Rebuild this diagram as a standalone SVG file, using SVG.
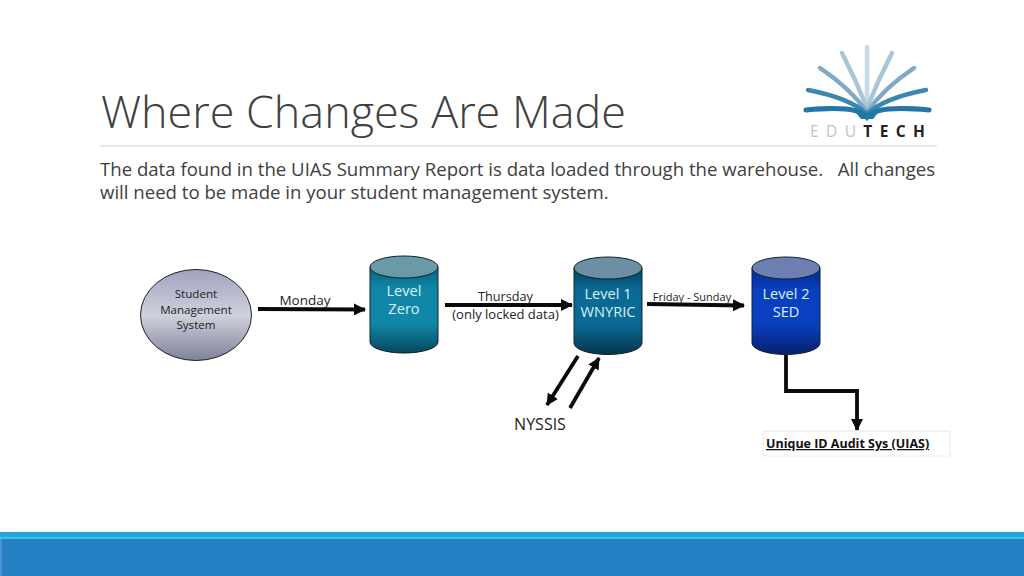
<svg xmlns="http://www.w3.org/2000/svg" width="1024" height="576" viewBox="0 0 1024 576">
<style>
text{font-family:"Open Sans","Noto Sans",sans-serif}
.t{fill:#404040}
.w{fill:#d8f0fa;font-size:14.600px;text-anchor:middle}
.k{fill:#222;font-size:11.600px;text-anchor:middle}
.c{stroke:#0a0a0a;stroke-width:3.800;fill:none}
.top{stroke:#0c2430;stroke-width:1}
.body{stroke:#0c2430;stroke-width:1}
.ray{fill:none;stroke-linecap:round}
</style>
<defs>
<marker id="a" markerUnits="userSpaceOnUse" markerWidth="13" markerHeight="12" refX="11" refY="6" orient="auto"><path d="M0 0L12 6L0 12Z" fill="#0a0a0a"/></marker>
<linearGradient id="g0" x1="0" y1="0" x2="0" y2="1"><stop offset="0" stop-color="#0a5f78"/><stop offset=".25" stop-color="#1187a8"/><stop offset=".65" stop-color="#1187a8"/><stop offset="1" stop-color="#06485e"/></linearGradient>
<linearGradient id="g1" x1="0" y1="0" x2="0" y2="1"><stop offset="0" stop-color="#063f5c"/><stop offset=".25" stop-color="#0b6a93"/><stop offset=".65" stop-color="#0b6a93"/><stop offset="1" stop-color="#053450"/></linearGradient>
<linearGradient id="g2" x1="0" y1="0" x2="0" y2="1"><stop offset="0" stop-color="#062a8c"/><stop offset=".25" stop-color="#0a3fc0"/><stop offset=".65" stop-color="#0a3fc0"/><stop offset="1" stop-color="#05206e"/></linearGradient>
<linearGradient id="e" x1="0" y1="0" x2="0" y2="1"><stop offset="0" stop-color="#9fa3bd"/><stop offset=".5" stop-color="#cfd1de"/><stop offset="1" stop-color="#7f8299"/></linearGradient>
</defs>
<rect width="1024" height="576" fill="#fff"/>
<g id="title">
<text x="101" y="128" class="t" style="font-size:44.900px;font-weight:300">Where Changes Are Made</text>
<line x1="100" y1="146" x2="937" y2="146" stroke="#d0d0d0"/>
</g>
<g id="body">
<text x="100" y="176" class="t" style="font-size:18.600px" xml:space="preserve">The data found in the UIAS Summary Report is data loaded through the warehouse.   All changes</text>
<text x="100" y="199" class="t" style="font-size:18.600px">will need to be made in your student management system.</text>
</g>
<g id="logo">
<g class="ray">
<path d="M867 47V106" stroke="#c8dbe4" stroke-width="4.500"/>
<path d="M842 53Q856 80 867 108Q878 80 892 53" stroke="#a9c6d6" stroke-width="4.500"/>
<path d="M820 68Q850 88 867 112Q884 88 914 68" stroke="#7fa9c4" stroke-width="4.500"/>
<path d="M808 90Q850 98 867 114Q884 98 926 90" stroke="#3b87b0" stroke-width="4.500"/>
<path d="M806 110Q858 105 867 117Q876 105 929 110" stroke="#1f78a8" stroke-width="5"/>
</g>
<path d="M856 113H878L873 119H861Z" fill="#1f78a8"/>
<text x="810" y="137" style="font-size:15.500px;letter-spacing:7.400px;font-weight:400" fill="#c4c4c4">EDU<tspan fill="#222" font-weight="700">TECH</tspan></text>
</g>
<g id="connectors">
<line x1="258" y1="309" x2="365" y2="309.500" class="c" marker-end="url(#a)"/>
<line x1="445" y1="305" x2="572" y2="305" class="c" marker-end="url(#a)"/>
<line x1="647" y1="304" x2="744" y2="305.500" class="c" marker-end="url(#a)"/>
<line x1="578" y1="356" x2="547" y2="405" class="c" marker-end="url(#a)"/>
<line x1="570" y1="408" x2="599" y2="358" class="c" marker-end="url(#a)"/>
<path d="M786 353V391H857V430" class="c" marker-end="url(#a)"/>
</g>
<g id="student">
<ellipse cx="196" cy="315" rx="55.500" ry="45.500" fill="url(#e)" stroke="#222"/>
<text class="k" x="196" y="298">Student</text>
<text class="k" x="196" y="313.500">Management</text>
<text class="k" x="196" y="329">System</text>
</g>
<g id="level0">
<path class="body" d="M370 267V342A34 11 0 0 0 438 342V267Z" fill="url(#g0)"/>
<ellipse class="top" cx="404" cy="267" rx="34" ry="11" fill="#6a99a8"/>
<text class="w" x="404" y="296">Level</text>
<text class="w" x="404" y="314">Zero</text>
</g>
<g id="level1">
<path class="body" d="M574 268V343A34 11.500 0 0 0 642 343V268Z" fill="url(#g1)"/>
<ellipse class="top" cx="608" cy="268" rx="34" ry="11" fill="#6c8fa3"/>
<text class="w" x="608" y="298.500">Level 1</text>
<text class="w" x="608" y="316.500">WNYRIC</text>
</g>
<g id="level2">
<path class="body" d="M752 268V343A34 11.500 0 0 0 820 343V268Z" fill="url(#g2)"/>
<ellipse class="top" cx="786" cy="268" rx="34" ry="11" fill="#6c7fb0"/>
<text class="w" x="786" y="298.500">Level 2</text>
<text class="w" x="786" y="316.500">SED</text>
</g>
<g id="labels">
<text class="k" x="305" y="305" style="font-size:13.500px">Monday</text>
<text class="k" x="505.500" y="301" style="font-size:12.700px">Thursday</text>
<text class="k" x="505.500" y="319" style="font-size:13px">(only locked data)</text>
<text class="k" x="692" y="301" style="font-size:11px">Friday - Sunday</text>
<text class="k" x="540" y="430" style="font-size:16px">NYSSIS</text>
</g>
<g id="uias">
<path d="M763 456V431H950V456" fill="none" stroke="#e6e6e6"/>
<line x1="763" y1="456" x2="950" y2="456" stroke="#eee"/>
<text x="766" y="448" style="font-size:12.500px;font-weight:700;text-decoration:underline" fill="#111">Unique ID Audit Sys (UIAS)</text>
</g>
<g id="footer">
<rect y="532" width="1024" height="6" fill="#1fa7de"/>
<rect y="537" width="1024" height="2" fill="#45bdec"/>
<rect y="539" width="1024" height="37" fill="#2580c3"/>
<rect y="539" width="2" height="37" fill="#4a94d6"/>
</g>
</svg>
